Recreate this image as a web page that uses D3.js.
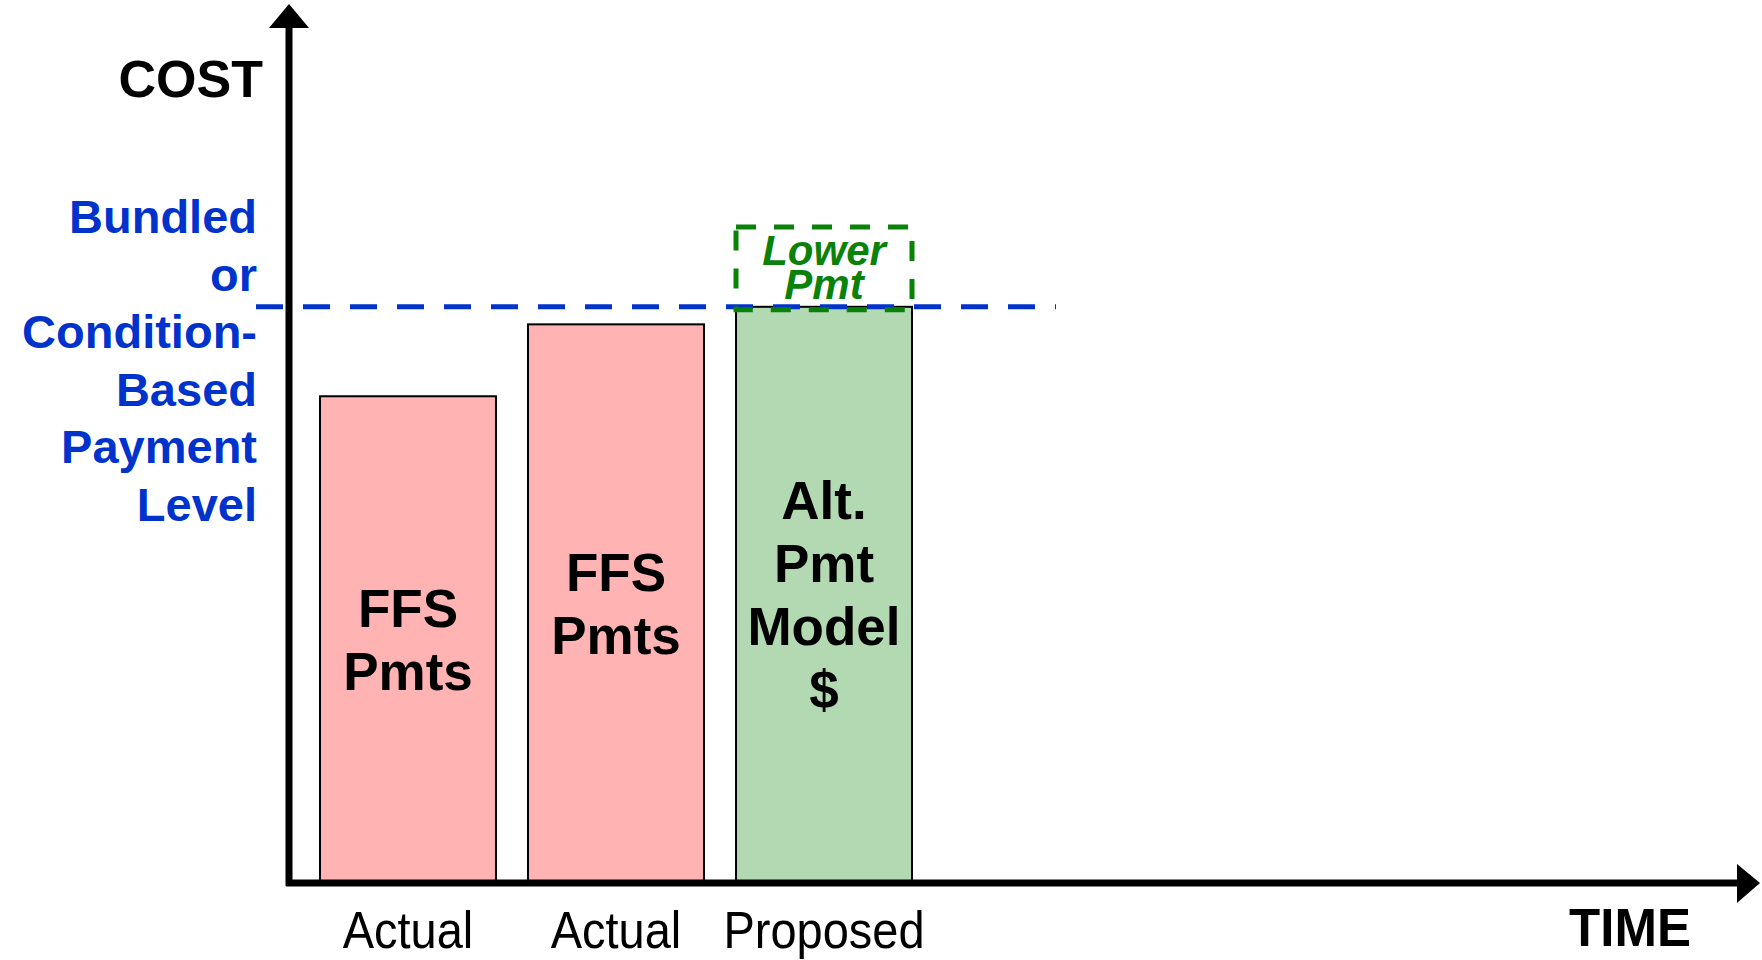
<!DOCTYPE html>
<html>
<head>
<meta charset="utf-8">
<script src="https://cdn.jsdelivr.net/npm/d3@7"></script>
<style>
  body { margin: 0; background: #fff; }
  svg { display: block; font-family: "Liberation Sans", Arial, sans-serif; }
</style>
</head>
<body>
<svg width="1762" height="960"></svg>
<script>
// chart values
const periods = ["Actual", "Actual", "Proposed"];
const costs = [55.5, 63.7, 65.7];
const barLabels = [["FFS", "Pmts"], ["FFS", "Pmts"], ["Alt.", "Pmt", "Model", "$"]];
const barKinds = ["ffs", "ffs", "alt"];
const bundledLevel = 65.7;
const lowerPmtTop = 74.8;
const levelLabel = ["Bundled", "or", "Condition-", "Based", "Payment", "Level"];

const svg = d3.select("svg");
const originX = 289, originY = 883;

const y = d3.scaleLinear()
  .domain([0, 100])
  .range([originY, 6]);

const x = d3.scaleBand()
  .domain(d3.range(periods.length))
  .range([320, 912])
  .paddingInner(0.154)
  .paddingOuter(0);

const fill = { ffs: "#ffb3b3", alt: "#b3d9b3" };

// bars
svg.append("g")
  .selectAll("rect")
  .data(costs)
  .join("rect")
  .attr("x", (d, i) => x(i))
  .attr("y", d => y(d))
  .attr("width", x.bandwidth())
  .attr("height", d => y(0) - y(d))
  .attr("fill", (d, i) => fill[barKinds[i]])
  .attr("stroke", "#000")
  .attr("stroke-width", 2);

// labels inside bars
const lineH = 63;
costs.forEach((d, i) => {
  const lines = barLabels[i];
  const mid = (y(d) + y(0)) / 2;
  const first = mid - (lines.length - 1) * lineH / 2 + 19;
  svg.append("text")
    .attr("text-anchor", "middle")
    .attr("font-weight", "bold")
    .attr("font-size", 53)
    .attr("fill", "#000")
    .selectAll("tspan")
    .data(lines)
    .join("tspan")
    .attr("x", x(i) + x.bandwidth() / 2)
    .attr("y", (t, j) => first + j * lineH)
    .text(t => t);
});

// bundled payment level line
svg.append("line")
  .attr("x1", 256)
  .attr("x2", 1056)
  .attr("y1", y(bundledLevel))
  .attr("y2", y(bundledLevel))
  .attr("stroke", "#0033cc")
  .attr("stroke-width", 5)
  .attr("stroke-dasharray", "27 20");

// lower payment box on proposed bar
const pi = 2;
svg.append("rect")
  .attr("x", x(pi))
  .attr("y", y(lowerPmtTop))
  .attr("width", x.bandwidth())
  .attr("height", y(bundledLevel) - y(lowerPmtTop) + 3)
  .attr("fill", "none")
  .attr("stroke", "#0a820a")
  .attr("stroke-width", 5)
  .attr("stroke-dasharray", "20 18");

svg.append("text")
  .attr("text-anchor", "middle")
  .attr("font-weight", "bold")
  .attr("font-style", "italic")
  .attr("font-size", 42)
  .attr("fill", "#0a820a")
  .selectAll("tspan")
  .data(["Lower", "Pmt"])
  .join("tspan")
  .attr("x", x(pi) + x.bandwidth() / 2)
  .attr("y", (t, j) => 265 + j * 34)
  .text(t => t);

// axes
svg.append("line")
  .attr("x1", originX).attr("x2", originX)
  .attr("y1", originY + 3).attr("y2", 26)
  .attr("stroke", "#000").attr("stroke-width", 7);
svg.append("path")
  .attr("d", "M269,28L309,28L289,4Z")
  .attr("fill", "#000");

svg.append("line")
  .attr("x1", originX - 3).attr("x2", 1740)
  .attr("y1", originY).attr("y2", originY)
  .attr("stroke", "#000").attr("stroke-width", 7);
svg.append("path")
  .attr("d", "M1737,864L1737,903L1760,883Z")
  .attr("fill", "#000");

// axis titles
svg.append("text")
  .attr("x", 263).attr("y", 97)
  .attr("text-anchor", "end")
  .attr("font-weight", "bold")
  .attr("font-size", 52)
  .text("COST");

svg.append("text")
  .attr("transform", "translate(1630,946) scale(1,1.06)")
  .attr("text-anchor", "middle")
  .attr("font-weight", "bold")
  .attr("font-size", 51)
  .text("TIME");

// period labels
svg.append("g")
  .selectAll("text")
  .data(periods)
  .join("text")
  .attr("transform", (d, i) => `translate(${x(i) + x.bandwidth() / 2},948) scale(1,1.1)`)
  .attr("text-anchor", "middle")
  .attr("font-size", 47)
  .text(d => d);

// level label
svg.append("text")
  .attr("text-anchor", "end")
  .attr("font-weight", "bold")
  .attr("font-size", 47)
  .attr("fill", "#0033cc")
  .selectAll("tspan")
  .data(levelLabel)
  .join("tspan")
  .attr("x", 257)
  .attr("y", (t, j) => 233 + j * 57.6)
  .text(t => t);
</script>
</body>
</html>
